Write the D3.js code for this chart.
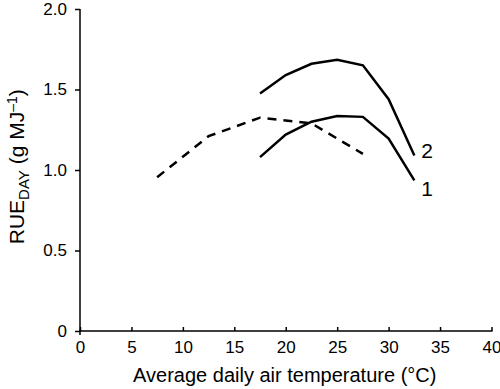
<!DOCTYPE html>
<html>
<head>
<meta charset="utf-8">
<script src="https://cdn.jsdelivr.net/npm/d3@7"></script>
<style>
  html, body { margin: 0; padding: 0; background: #fff; overflow: hidden; }
  svg { display: block; }
  text { font-family: "Liberation Sans", Arial, sans-serif; fill: #000; }
</style>
</head>
<body>
<div id="chart"></div>
<script>
// Daten
const tempCurve1 = [17.5, 20, 22.5, 25, 27.5, 30, 32.5];
const rueCurve1 = [1.08, 1.22, 1.30, 1.335, 1.33, 1.195, 0.935];
const tempCurve2 = [17.5, 20, 22.5, 25, 27.5, 30, 32.5];
const rueCurve2 = [1.475, 1.59, 1.66, 1.685, 1.65, 1.44, 1.09];
const tempDashed = [7.5, 12.5, 17.5, 22.5, 27.5];
const rueDashed = [0.955, 1.21, 1.325, 1.29, 1.10];
const xTicks = [0, 5, 10, 15, 20, 25, 30, 35, 40];
const yTicks = [0, 0.5, 1.0, 1.5, 2.0];
const yTickLabels = ["0", "0.5", "1.0", "1.5", "2.0"];
const curveLabels = ["1", "2"];

const width = 500;
const height = 389;
const margin = {top: 9, right: 9, bottom: 58, left: 80};
const innerWidth = width - margin.left - margin.right;
const innerHeight = height - margin.top - margin.bottom;

const svg = d3.select("#chart")
    .append("svg")
    .attr("width", width)
    .attr("height", height);

const innerChart = svg.append("g")
    .attr("transform", `translate(${margin.left}, ${margin.top})`);

const xScale = d3.scaleLinear()
    .domain([0, 40])
    .range([0, 411.5]);

const yScale = d3.scaleLinear()
    .domain([0, 2])
    .range([innerHeight, 0]);

// X-Achse: Ticks nach innen
const bottomAxis = d3.axisBottom(xScale)
    .tickValues(xTicks)
    .tickSize(-4)
    .tickPadding(10)
    .tickFormat(d3.format("d"));
const gx = innerChart.append("g")
    .attr("transform", `translate(0, ${innerHeight})`)
    .call(bottomAxis);
gx.select(".domain").attr("d", `M0,4V0H${xScale(40) + 1}`);

// Y-Achse
const leftAxis = d3.axisLeft(yScale)
    .tickValues(yTicks)
    .tickSize(5)
    .tickPadding(8)
    .tickFormat((d, i) => yTickLabels[i]);
const gy = innerChart.append("g").call(leftAxis);
gy.select(".domain").attr("d", `M0,0V${innerHeight}`);

innerChart.selectAll(".domain, .tick line")
    .attr("stroke", "#000")
    .attr("stroke-width", 1.5);
innerChart.selectAll(".tick text")
    .attr("font-family", "Liberation Sans, Arial, sans-serif")
    .attr("font-size", 17);

// Achsentitel
svg.append("text")
    .attr("x", margin.left + xScale(20) - 1)
    .attr("y", 382)
    .attr("text-anchor", "middle")
    .attr("font-size", 20)
    .text("Average daily air temperature (°C)");

const yTitle = svg.append("text")
    .attr("transform", `translate(24, ${margin.top + yScale(1.02)}) rotate(-90)`)
    .attr("text-anchor", "middle")
    .attr("font-size", 21);
yTitle.append("tspan").text("RUE");
yTitle.append("tspan").attr("font-size", 15).attr("dy", 5).text("DAY");
yTitle.append("tspan").attr("dy", -5).text(" (g MJ");
yTitle.append("tspan").attr("font-size", 14).attr("dy", -7).text("–1");
yTitle.append("tspan").attr("dy", 7).text(")");

// Kurven
const lineGenerator = d3.line()
    .x(d => xScale(d[0]))
    .y(d => yScale(d[1]));

const series = [
    {pts: d3.zip(tempCurve1, rueCurve1), dash: null},
    {pts: d3.zip(tempCurve2, rueCurve2), dash: null},
    {pts: d3.zip(tempDashed, rueDashed), dash: "9,7"}
];

innerChart.selectAll("path.curve")
    .data(series)
    .join("path")
    .attr("class", "curve")
    .attr("d", d => lineGenerator(d.pts))
    .attr("fill", "none")
    .attr("stroke", "#000")
    .attr("stroke-width", 2.5)
    .attr("stroke-dasharray", d => d.dash);

// Kurvenbeschriftung 1 und 2
const endPoints = [
    [tempCurve1[tempCurve1.length - 1], rueCurve1[rueCurve1.length - 1]],
    [tempCurve2[tempCurve2.length - 1], rueCurve2[rueCurve2.length - 1]]
];
innerChart.selectAll("text.curve-label")
    .data(endPoints)
    .join("text")
    .attr("class", "curve-label")
    .attr("x", d => xScale(d[0]) + 7)
    .attr("y", (d, i) => yScale(d[1]) + (i === 0 ? 16 : 2))
    .attr("font-size", 21)
    .text((d, i) => curveLabels[i]);
</script>
</body>
</html>
